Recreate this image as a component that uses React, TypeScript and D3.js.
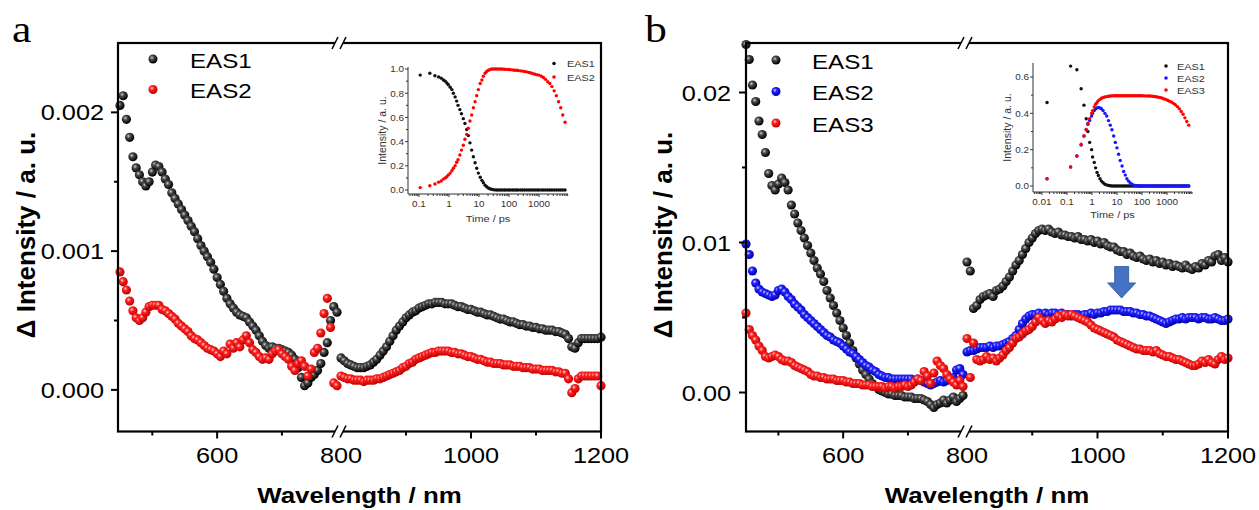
import React from "react";
import * as d3 from "d3";

const FONT = "Arial, 'Liberation Sans', Helvetica, sans-serif";
const SX = 1.15;

// ---------- wavelength grids (nm) ----------
const WL_LEFT = [
  450, 455, 460, 465, 470, 475, 480, 485, 490, 495,
  500, 505, 510, 515, 520, 525, 530, 535, 540, 545,
  550, 555, 560, 565, 570, 575, 580, 585, 590, 595,
  600, 605, 610, 615, 620, 625, 630, 635, 640, 645,
  650, 655, 660, 665, 670, 675, 680, 685, 690, 695,
  700, 705, 710, 715, 720, 725, 730, 735, 740, 745,
  750, 755, 760, 765, 770, 775, 780, 785,
];
const WL_RIGHT = [
  800, 805, 810, 815, 820, 825, 830, 835, 840, 845,
  850, 855, 860, 865, 870, 875, 880, 885, 890, 895,
  900, 905, 910, 915, 920, 925, 930, 935, 940, 945,
  950, 955, 960, 965, 970, 975, 980, 985, 990, 995,
  1000, 1005, 1010, 1015, 1020, 1025, 1030, 1035, 1040, 1045,
  1050, 1055, 1060, 1065, 1070, 1075, 1080, 1085, 1090, 1095,
  1100, 1105, 1110, 1115, 1120, 1125, 1130, 1135, 1140, 1145,
  1150, 1155, 1160, 1165, 1170, 1175, 1180, 1185, 1190, 1195,
  1200,
];

// ---------- panel a ----------
const A_EAS1_LEFT = [
  0.00205, 0.00212, 0.00195, 0.00182, 0.00168, 0.0016, 0.00155, 0.0015, 0.00147, 0.0015,
  0.00157, 0.00162, 0.00161, 0.00157, 0.00152, 0.00148, 0.00142, 0.00138, 0.00134, 0.0013,
  0.00126, 0.00122, 0.00118, 0.00114, 0.00109, 0.00104, 0.001, 0.00096, 0.00092, 0.00087,
  0.00081, 0.00076, 0.00071, 0.00066, 0.00062, 0.00059, 0.00056, 0.00054, 0.00053, 0.00052,
  0.00049, 0.00046, 0.00043, 0.00039, 0.00035, 0.00032, 0.0003, 0.00031, 0.0003, 0.0003,
  0.00029, 0.00028, 0.00027, 0.00025, 0.00022, 0.00016, 0.00009, 0.00003, 0.00005, 0.00009,
  0.00011, 0.00014, 0.00019, 0.00027, 0.00034, 0.0005, 0.0006, 0.00056,
];
const A_EAS1_RIGHT = [
  0.00023, 0.00021, 0.00019, 0.00018, 0.00017, 0.00016, 0.00016, 0.00016, 0.00017, 0.00018,
  0.0002, 0.00022, 0.00025, 0.00028, 0.00031, 0.00035, 0.00039, 0.00043, 0.00046, 0.00049,
  0.00052, 0.00054, 0.00056, 0.00057, 0.00059, 0.0006, 0.00061, 0.00062, 0.00062, 0.00063,
  0.00063, 0.00063, 0.00062, 0.00062, 0.00062, 0.00061, 0.0006, 0.0006, 0.00059, 0.00058,
  0.00058, 0.00057, 0.00056, 0.00056, 0.00055, 0.00054, 0.00054, 0.00053, 0.00052, 0.00051,
  0.00051, 0.0005, 0.00049, 0.00049, 0.00048, 0.00047, 0.00047, 0.00046, 0.00046, 0.00045,
  0.00045, 0.00044, 0.00044, 0.00043, 0.00043, 0.00043, 0.00042, 0.00042, 0.00041, 0.0004,
  0.00037, 0.00031, 0.0003, 0.00034, 0.00037, 0.00037, 0.00037, 0.00037, 0.00037, 0.00037,
  0.00038,
];
const A_EAS2_LEFT = [
  0.00085, 0.00078, 0.00072, 0.00064, 0.00057, 0.00052, 0.0005, 0.00052, 0.00056, 0.0006,
  0.00061, 0.00061, 0.00061, 0.00058, 0.00057, 0.00055, 0.00053, 0.00051, 0.00048, 0.00046,
  0.00044, 0.00042, 0.00039, 0.00037, 0.00036, 0.00034, 0.00032, 0.0003, 0.00029, 0.00028,
  0.00026, 0.00024, 0.00028, 0.00026, 0.00033, 0.0003, 0.00034, 0.00031, 0.00036, 0.00039,
  0.00034, 0.00029, 0.00027, 0.00024, 0.00022, 0.00023, 0.00022, 0.00026, 0.00028, 0.00029,
  0.00026, 0.00024, 0.00022, 0.00017, 0.00014, 0.00019, 0.00021, 0.00017, 0.0001, 0.00015,
  0.00027, 0.0003, 0.00041, 0.00055, 0.00066, 0.00045, 0.00005, 0.00003,
];
const A_EAS2_RIGHT = [
  0.0001, 0.00009, 0.00008, 0.00008, 0.00007, 0.00007, 0.00007, 0.00006, 0.00007, 0.00007,
  0.00007, 0.00008, 0.00008, 0.00009, 0.0001, 0.00011, 0.00012, 0.00013, 0.00014, 0.00016,
  0.00017, 0.00019, 0.0002, 0.00022, 0.00023, 0.00024, 0.00025, 0.00026, 0.00027, 0.00027,
  0.00028, 0.00028, 0.00028, 0.00028, 0.00027, 0.00027, 0.00026, 0.00026, 0.00025, 0.00024,
  0.00024, 0.00023, 0.00022, 0.00022, 0.00021, 0.0002, 0.0002, 0.00019, 0.00019, 0.00019,
  0.00018, 0.00018, 0.00018, 0.00017, 0.00017, 0.00017, 0.00016, 0.00016, 0.00016, 0.00015,
  0.00015, 0.00015, 0.00014, 0.00014, 0.00014, 0.00014, 0.00013, 0.00013, 0.00012, 0.00012,
  0.00008, -0.00002, 0.00001, 0.00008, 0.0001, 0.0001, 0.0001, 0.0001, 0.0001, 0.0001,
  0.00003,
];

// ---------- panel b ----------
const B_EAS1_LEFT = [
  0.0232, 0.0222, 0.0205, 0.0194, 0.0181, 0.0172, 0.016, 0.0146, 0.0138, 0.0135,
  0.0139, 0.0143, 0.014, 0.0135, 0.0125, 0.0119, 0.0113, 0.0108, 0.0103, 0.0098,
  0.0093, 0.0088, 0.0083, 0.0079, 0.0074, 0.0068, 0.0063, 0.0058, 0.0053, 0.0048,
  0.0043, 0.0038, 0.0033, 0.0028, 0.0023, 0.0019, 0.0015, 0.0012, 0.0009, 0.0006,
  0.0004, 0.0002, 0.0001, 0.0, -0.0001, -0.0001, -0.0002, -0.0002, -0.0002, -0.0003,
  -0.0003, -0.0003, -0.0004, -0.0004, -0.0004, -0.0005, -0.0006, -0.0008, -0.001, -0.0008,
  -0.0007, -0.0005, -0.0007, -0.0005, -0.0003, -0.0006, -0.0004, -0.0002,
];
const B_EAS1_RIGHT = [
  0.0087, 0.0081, 0.0056, 0.0058, 0.0062, 0.0064, 0.0065, 0.0066, 0.0064, 0.0068,
  0.0069, 0.0071, 0.0074, 0.0077, 0.0081, 0.0085, 0.0088, 0.0092, 0.0096, 0.01,
  0.0103, 0.0106, 0.0108, 0.0109, 0.0108, 0.0109, 0.0107, 0.0106, 0.0107, 0.0105,
  0.0105, 0.0104, 0.0104, 0.0103, 0.0104, 0.0102, 0.0102, 0.0101, 0.0102, 0.01,
  0.0101, 0.0099, 0.01, 0.0098, 0.0097, 0.0097, 0.0095, 0.0094, 0.0094, 0.0092,
  0.0093, 0.0091, 0.009, 0.0091, 0.0089, 0.0088, 0.0089, 0.0087, 0.0088, 0.0086,
  0.0087, 0.0085, 0.0086, 0.0084, 0.0085, 0.0084, 0.0083, 0.0085, 0.0083, 0.0082,
  0.0084, 0.0083, 0.0086, 0.0085, 0.0088, 0.0087, 0.0091, 0.0092, 0.0088, 0.009,
  0.0087,
];
const B_EAS2_LEFT = [
  0.0099, 0.0092, 0.0081, 0.0073, 0.0069, 0.0067, 0.0066, 0.0065, 0.0064, 0.0065,
  0.0068, 0.0069, 0.0067, 0.0064, 0.0062, 0.0059, 0.0057, 0.0055, 0.0052, 0.005,
  0.0048, 0.0046, 0.0044, 0.0042, 0.004, 0.0038, 0.0037, 0.0035, 0.0034, 0.0033,
  0.0031, 0.0029, 0.0027, 0.0026, 0.0024, 0.0022, 0.002, 0.0018, 0.0017, 0.0015,
  0.0014, 0.0012, 0.0011, 0.001, 0.001, 0.0009, 0.0009, 0.0009, 0.0009, 0.0009,
  0.0009, 0.0009, 0.0008, 0.0009, 0.0008, 0.0007, 0.0006, 0.0005, 0.0006, 0.0007,
  0.0008, 0.0007, 0.0008, 0.0009, 0.001, 0.0015, 0.0016, 0.0012,
];
const B_EAS2_RIGHT = [
  0.0027, 0.0028, 0.0028, 0.0029, 0.003, 0.003, 0.003, 0.0031, 0.003, 0.0031,
  0.0031, 0.0032, 0.0033, 0.0034, 0.0036, 0.0038, 0.0042, 0.0046, 0.0049, 0.0051,
  0.0052, 0.0052, 0.0053, 0.0052, 0.0053, 0.0052, 0.0053, 0.0053, 0.0052, 0.0053,
  0.0052, 0.0052, 0.0051, 0.0052, 0.0052, 0.0051, 0.0052, 0.0052, 0.0053, 0.0052,
  0.0053, 0.0053, 0.0054, 0.0054, 0.0055, 0.0055, 0.0055, 0.0055, 0.0054, 0.0054,
  0.0054, 0.0053, 0.0053, 0.0052, 0.0052, 0.0051, 0.0051, 0.005, 0.0049, 0.0048,
  0.0047, 0.0046, 0.0047, 0.0048, 0.0049, 0.0049, 0.005, 0.0049, 0.005, 0.005,
  0.005, 0.0049, 0.005, 0.005, 0.0049, 0.0049, 0.005, 0.0049, 0.0048, 0.0048,
  0.0049,
];
const B_EAS3_LEFT = [
  0.0053, 0.0042, 0.0038, 0.0035, 0.0031, 0.0028, 0.0024, 0.0023, 0.0024, 0.0025,
  0.0024, 0.0022, 0.0021, 0.0021, 0.002, 0.0018, 0.0017, 0.0016, 0.0015, 0.0014,
  0.0012, 0.0011, 0.0011, 0.001, 0.001, 0.0009, 0.0009, 0.0009, 0.0008, 0.0008,
  0.0008, 0.0007, 0.0007, 0.0006, 0.0006, 0.0006, 0.0005, 0.0005, 0.0005, 0.0004,
  0.0004, 0.0004, 0.0004, 0.0003, 0.0004, 0.0004, 0.0003, 0.0004, 0.0004, 0.0005,
  0.0004, 0.0005, 0.0007, 0.0009, 0.0008, 0.0014, 0.0011, 0.0006, 0.0013, 0.0021,
  0.0018, 0.0016, 0.0012, 0.0009, 0.0007, 0.0005, 0.0008, 0.0004,
];
const B_EAS3_RIGHT = [
  0.0036, 0.001, 0.0033, 0.0022, 0.0021, 0.0022, 0.0024, 0.0022, 0.0023, 0.0021,
  0.0023, 0.0025, 0.0028, 0.003, 0.0033, 0.0036, 0.0037, 0.0039, 0.0041, 0.0042,
  0.0044, 0.0047, 0.005, 0.0048, 0.0046, 0.0048, 0.0047, 0.0049, 0.0051, 0.005,
  0.0052, 0.0051, 0.0052, 0.0051, 0.005, 0.0049, 0.0048, 0.0047, 0.0045, 0.0043,
  0.0042, 0.0041, 0.004, 0.0039, 0.0038, 0.0037, 0.0035, 0.0034, 0.0033, 0.0032,
  0.0031, 0.003, 0.0029, 0.0029, 0.0028, 0.0028, 0.0028, 0.0027, 0.0028, 0.0026,
  0.0025, 0.0024, 0.0024, 0.0023, 0.0022, 0.0022, 0.0021, 0.002, 0.0019, 0.0018,
  0.0018, 0.0019, 0.0021, 0.002, 0.0022, 0.002, 0.0019, 0.0022, 0.0024, 0.0022,
  0.0023,
];

// ---------- inset a (kinetics) ----------
const TA = [
  0.11, 0.23, 0.34, 0.45, 0.55, 0.65, 0.75, 0.85, 0.95, 1.1,
  1.25, 1.4, 1.6, 1.8, 2.0, 2.3, 2.6, 3.0, 3.4, 3.9,
  4.4, 5.0, 5.7, 6.5, 7.4, 8.4, 9.5, 11, 12.5, 14,
  16, 18, 20.5, 23, 26, 30, 34, 39, 45, 52,
  60, 70, 80, 95, 110, 130, 150, 175, 200, 240,
  280, 330, 390, 460, 540, 630, 740, 870, 1000, 1200,
  1400, 1650, 1950, 2300, 2700, 3200, 3800, 4500, 5300, 6200,
  7400,
];
const TA_EAS1 = [
  0.95, 0.965, 0.945, 0.935, 0.925, 0.91, 0.9, 0.885, 0.87, 0.85,
  0.83, 0.8, 0.77, 0.735, 0.7, 0.665, 0.63, 0.59, 0.55, 0.5,
  0.45, 0.39, 0.33, 0.275, 0.225, 0.18, 0.14, 0.105, 0.08, 0.06,
  0.04, 0.027, 0.016, 0.01, 0.006, 0.003, 0.001, 0, 0, 0,
  0, 0, 0, 0, 0, 0, 0, 0, 0, 0,
  0, 0, 0, 0, 0, 0, 0, 0, 0, 0,
  0, 0, 0, 0, 0, 0, 0, 0, 0, 0,
  0,
];
const TA_EAS2 = [
  0.02, 0.035, 0.05, 0.065, 0.075, 0.09, 0.1, 0.11, 0.125, 0.14,
  0.16, 0.18, 0.2, 0.23, 0.25, 0.29, 0.33, 0.37, 0.42, 0.46,
  0.51, 0.57, 0.62, 0.68, 0.73, 0.78, 0.83, 0.88, 0.91, 0.94,
  0.965, 0.98, 0.99, 0.995, 1.0, 1.0, 1.0, 1.0, 1.0, 1.0,
  1.0, 0.998, 0.997, 0.996, 0.995, 0.993, 0.99, 0.99, 0.988, 0.985,
  0.983, 0.98, 0.977, 0.972, 0.967, 0.962, 0.957, 0.952, 0.95, 0.94,
  0.93, 0.915, 0.895, 0.88, 0.855, 0.82, 0.78, 0.73, 0.68, 0.62,
  0.56,
];

// ---------- inset b (kinetics) ----------
const TB = [
  0.016, 0.14, 0.25, 0.37, 0.48, 0.59, 0.69, 0.81, 0.97, 1.06,
  1.24, 1.4, 1.6, 1.8, 2.1, 2.4, 2.8, 3.3, 3.9, 4.6,
  5.4, 6.3, 7.4, 8.6, 10, 11.6, 13.5, 16, 18.5, 21.5,
  25, 29, 34, 40, 47, 55, 65, 76, 90, 105,
  125, 150, 180, 215, 260, 310, 370, 440, 520, 620,
  740, 880, 1050, 1250, 1500, 1800, 2150, 2600, 3100, 3700,
  4400, 5200, 6200, 7400,
];
const TB_EAS1 = [
  0.46, 0.66, 0.64, 0.535, 0.445, 0.37, 0.3, 0.24, 0.2, 0.16,
  0.13, 0.1, 0.075, 0.058, 0.04, 0.027, 0.018, 0.01, 0.006, 0.003,
  0.001, 0, 0, 0, 0, 0, 0, 0, 0, 0,
  0, 0, 0, 0, 0, 0, 0, 0, 0, 0,
  0, 0, 0, 0, 0, 0, 0, 0, 0, 0,
  0, 0, 0, 0, 0, 0, 0, 0, 0, 0,
  0, 0, 0, 0,
];
const TB_EAS2 = [
  0.04, 0.105, 0.165, 0.225, 0.275, 0.31, 0.34, 0.36, 0.385, 0.4,
  0.415, 0.425, 0.43, 0.432, 0.43, 0.425, 0.415, 0.4, 0.385, 0.36,
  0.335, 0.31, 0.275, 0.24, 0.21, 0.175, 0.14, 0.11, 0.08, 0.06,
  0.04, 0.027, 0.017, 0.01, 0.005, 0.003, 0.001, 0, 0, 0,
  0, 0, 0, 0, 0, 0, 0, 0, 0, 0,
  0, 0, 0, 0, 0, 0, 0, 0, 0, 0,
  0, 0, 0, 0,
];
const TB_EAS3 = [
  0.04, 0.105, 0.165, 0.23, 0.275, 0.31, 0.345, 0.37, 0.4, 0.415,
  0.435, 0.45, 0.46, 0.47, 0.477, 0.483, 0.487, 0.49, 0.492, 0.494,
  0.495, 0.496, 0.497, 0.497, 0.497, 0.497, 0.497, 0.497, 0.497, 0.497,
  0.497, 0.497, 0.497, 0.497, 0.497, 0.497, 0.497, 0.497, 0.497, 0.497,
  0.496, 0.496, 0.495, 0.495, 0.494, 0.493, 0.491, 0.489, 0.487, 0.484,
  0.48, 0.477, 0.472, 0.467, 0.462, 0.455, 0.447, 0.437, 0.425, 0.41,
  0.395, 0.375, 0.355, 0.335,
];

// ---------- ticks ----------
const X_LABELS = [600, 800, 1000, 1200];
const X_MINOR = [500, 700, 900, 1100];
const A_Y_TICKS = [0, 0.001, 0.002];
const A_Y_MINOR = [0.0005, 0.0015];
const B_Y_TICKS = [0, 0.01, 0.02];
const B_Y_MINOR = [0.005, 0.015];
const INSET_A_X_TICKS = [0.1, 1, 10, 100, 1000];
const INSET_B_X_TICKS = [0.01, 0.1, 1, 10, 100, 1000];
const INSET_A_Y_TICKS = [0, 0.2, 0.4, 0.6, 0.8, 1.0];
const INSET_B_Y_TICKS = [0, 0.2, 0.4, 0.6];

const ARROW = { wl: 1037, top: 0.0084, bottom: 0.0063 };

const TOP = 43;
const BOTTOM = 431.5;
const R_MAIN = 4.6;

function T({ x, y, size, anchor = "start", weight = "normal", family = FONT, fill = "#000", sx = SX, children }: any) {
  return (
    <text
      transform={`translate(${x},${y}) scale(${sx},1)`}
      fontSize={size}
      fontFamily={family}
      fontWeight={weight}
      textAnchor={anchor}
      fill={fill}
    >
      {children}
    </text>
  );
}

function BreakMark({ x, y }: { x: number; y: number }) {
  return (
    <g>
      <rect x={x - 4} y={y - 3} width={8} height={6} fill="#fff" />
      <line x1={x - 7} y1={y + 6} x2={x - 1} y2={y - 6} stroke="#000" strokeWidth={1.6} />
      <line x1={x + 1} y1={y + 6} x2={x + 7} y2={y - 6} stroke="#000" strokeWidth={1.6} />
    </g>
  );
}

function MainPanel(p: any) {
  const xL = d3.scaleLinear().domain(p.domL).range(p.rangeL);
  const xR = d3.scaleLinear().domain(p.domR).range(p.rangeR);
  const xs = (w: number) => (w <= p.domL[1] ? xL(w) : xR(w));
  const y = d3.scaleLinear().domain(p.yDomain).range([BOTTOM, TOP]);
  const X0 = p.rangeL[0];
  const X1 = p.rangeR[1];
  const fmt = d3.format(p.yFmt);
  return (
    <g>
      {p.series.map((s: any) => (
        <g key={s.name}>
          {s.left.map((v: number, i: number) => (
            <circle key={"l" + i} cx={xL(WL_LEFT[i])} cy={y(v)} r={R_MAIN} fill={`url(#${s.grad})`} />
          ))}
          {s.right.map((v: number, i: number) => (
            <circle key={"r" + i} cx={xR(WL_RIGHT[i])} cy={y(v)} r={R_MAIN} fill={`url(#${s.grad})`} />
          ))}
        </g>
      ))}
      <rect x={X0} y={TOP} width={X1 - X0} height={BOTTOM - TOP} fill="none" stroke="#000" strokeWidth={2.2} />
      {p.yTicks.map((t: number) => (
        <g key={"yt" + t}>
          <line x1={X0 - 7} x2={X0} y1={y(t)} y2={y(t)} stroke="#000" strokeWidth={2} />
          <T x={p.yLabelX} y={y(t) + 8} size={22} anchor="end">{fmt(t)}</T>
        </g>
      ))}
      {p.yMinor.map((t: number) => (
        <line key={"ym" + t} x1={X0 - 4} x2={X0} y1={y(t)} y2={y(t)} stroke="#000" strokeWidth={2} />
      ))}
      {X_LABELS.map((t) => (
        <g key={"xt" + t}>
          {t !== p.domR[0] && (
            <line x1={xs(t)} x2={xs(t)} y1={BOTTOM} y2={BOTTOM + 7} stroke="#000" strokeWidth={2} />
          )}
          <T x={xs(t)} y={463} size={22} anchor="middle">{t}</T>
        </g>
      ))}
      {X_MINOR.map((t) => (
        <line key={"xm" + t} x1={xs(t)} x2={xs(t)} y1={BOTTOM} y2={BOTTOM + 4} stroke="#000" strokeWidth={2} />
      ))}
      <BreakMark x={p.breakX} y={TOP} />
      <BreakMark x={p.breakX} y={BOTTOM} />
      {p.series.map((s: any, i: number) => (
        <g key={"lg" + s.name}>
          <circle cx={p.legend.x} cy={p.legend.y + i * p.legend.dy} r={4.5} fill={`url(#${s.grad})`} />
          <T x={p.legend.tx} y={p.legend.y + i * p.legend.dy + 8.5} size={21}>{s.name}</T>
        </g>
      ))}
      <text
        transform={`translate(${p.yTitleX},${235}) rotate(-90)`}
        fontSize={26}
        fontFamily={FONT}
        fontWeight="bold"
        textAnchor="middle"
      >
        Δ Intensity / a. u.
      </text>
      <T x={(X0 + X1) / 2} y={503} size={22.5} anchor="middle" weight="bold">Wavelength / nm</T>
      <T x={p.letterX} y={42} size={38} family="'Liberation Serif', 'Times New Roman', serif">{p.letter}</T>
      {p.children}
    </g>
  );
}

function Inset(p: any) {
  const x = d3.scaleLog().domain(p.xDomain).range([p.x0, p.x1]);
  const y = d3.scaleLinear().domain(p.yDomain).range([p.y1, p.y0]);
  const minorX = x.ticks().filter((t: number) => !p.xTicks.some((m: number) => Math.abs(m - t) / m < 1e-6));
  const yMinor = p.yTicks.slice(0, -1).map((t: number, i: number) => (t + p.yTicks[i + 1]) / 2);
  const col = "#333";
  return (
    <g>
      {p.series.map((s: any) => (
        <g key={s.name}>
          {s.values.map((v: number, i: number) => (
            <circle key={i} cx={x(p.times[i])} cy={y(v)} r={1.7} fill={s.color} />
          ))}
        </g>
      ))}
      <line x1={p.x0} x2={p.x0} y1={p.y0} y2={p.y1} stroke={col} strokeWidth={1} />
      <line x1={p.x0} x2={p.x1} y1={p.y1} y2={p.y1} stroke={col} strokeWidth={1} />
      {p.yTicks.map((t: number) => (
        <g key={"y" + t}>
          <line x1={p.x0 - 3} x2={p.x0} y1={y(t)} y2={y(t)} stroke={col} strokeWidth={1} />
          <T x={p.x0 - 4} y={y(t) + 3.3} size={9} anchor="end" fill={col} sx={1.1}>{d3.format(".1f")(t)}</T>
        </g>
      ))}
      {yMinor.map((t: number) => (
        <line key={"ym" + t} x1={p.x0 - 2} x2={p.x0} y1={y(t)} y2={y(t)} stroke={col} strokeWidth={1} />
      ))}
      {p.xTicks.map((t: number) => (
        <g key={"x" + t}>
          <line x1={x(t)} x2={x(t)} y1={p.y1} y2={p.y1 + 3} stroke={col} strokeWidth={1} />
          <T x={x(t)} y={p.y1 + 12.5} size={9} anchor="middle" fill={col} sx={1.1}>{String(t)}</T>
        </g>
      ))}
      {minorX.map((t: number, i: number) => (
        <line key={"xm" + i} x1={x(t)} x2={x(t)} y1={p.y1} y2={p.y1 + 2} stroke={col} strokeWidth={1} />
      ))}
      <text
        transform={`translate(${p.yTitleX},${(p.y0 + p.y1) / 2}) rotate(-90)`}
        fontSize={10.5}
        fontFamily={FONT}
        textAnchor="middle"
        fill={col}
      >
        Intensity / a. u.
      </text>
      <T x={(p.x0 + p.x1) / 2} y={p.xTitleY} size={9.5} anchor="middle" fill={col}>Time / ps</T>
      {p.series.map((s: any, i: number) => (
        <g key={"lg" + s.name}>
          <circle cx={p.legend.x} cy={p.legend.y + i * p.legend.dy} r={1.8} fill={s.color} />
          <T x={p.legend.tx} y={p.legend.y + i * p.legend.dy + 3.5} size={9.5} fill={col}>{s.name}</T>
        </g>
      ))}
    </g>
  );
}

export default function App() {
  const panelA = {
    domL: [447, 785],
    rangeL: [118, 337],
    domR: [800, 1200],
    rangeR: [341, 601],
    breakX: 339,
    yDomain: [-0.0003, 0.0025],
    yTicks: A_Y_TICKS,
    yMinor: A_Y_MINOR,
    yFmt: ".3f",
    yLabelX: 104,
    yTitleX: 35,
    letter: "a",
    letterX: 12,
    legend: { x: 153, y: 59, dy: 30.5, tx: 190 },
    series: [
      { name: "EAS1", grad: "gBlack", left: A_EAS1_LEFT, right: A_EAS1_RIGHT },
      { name: "EAS2", grad: "gRed", left: A_EAS2_LEFT, right: A_EAS2_RIGHT },
    ],
  };
  const panelB = {
    domL: [450, 785],
    rangeL: [746, 963],
    domR: [800, 1200],
    rangeR: [967, 1228],
    breakX: 965,
    yDomain: [-0.0026, 0.0233],
    yTicks: B_Y_TICKS,
    yMinor: B_Y_MINOR,
    yFmt: ".2f",
    yLabelX: 731,
    yTitleX: 672,
    letter: "b",
    letterX: 645,
    legend: { x: 776, y: 60, dy: 31.5, tx: 812 },
    series: [
      { name: "EAS1", grad: "gBlack", left: B_EAS1_LEFT, right: B_EAS1_RIGHT },
      { name: "EAS2", grad: "gBlue", left: B_EAS2_LEFT, right: B_EAS2_RIGHT },
      { name: "EAS3", grad: "gRed", left: B_EAS3_LEFT, right: B_EAS3_RIGHT },
    ],
  };

  const bxR = d3.scaleLinear().domain(panelB.domR).range(panelB.rangeR);
  const byS = d3.scaleLinear().domain(panelB.yDomain).range([BOTTOM, TOP]);
  const ax = bxR(ARROW.wl);
  const aTop = byS(ARROW.top);
  const aBot = byS(ARROW.bottom);
  const headY = aTop + (aBot - aTop) * 0.52;
  const arrowPath = `M${ax - 7},${aTop} L${ax + 7},${aTop} L${ax + 7},${headY} L${ax + 14},${headY} L${ax},${aBot} L${ax - 14},${headY} L${ax - 7},${headY} Z`;

  return (
    <svg
      width={1259}
      height={510}
      style={{ position: "absolute", left: 0, top: 0, background: "#fff" }}
      xmlns="http://www.w3.org/2000/svg"
    >
      <defs>
        <radialGradient id="gBlack" cx="0.38" cy="0.36" r="0.62">
          <stop offset="0" stopColor="#cfcfcf" />
          <stop offset="0.35" stopColor="#4a4a4a" />
          <stop offset="1" stopColor="#000" />
        </radialGradient>
        <radialGradient id="gRed" cx="0.38" cy="0.36" r="0.62">
          <stop offset="0" stopColor="#ffd6d6" />
          <stop offset="0.35" stopColor="#ff2222" />
          <stop offset="1" stopColor="#c00000" />
        </radialGradient>
        <radialGradient id="gBlue" cx="0.38" cy="0.36" r="0.62">
          <stop offset="0" stopColor="#d6d6ff" />
          <stop offset="0.35" stopColor="#2222ff" />
          <stop offset="1" stopColor="#0000b0" />
        </radialGradient>
      </defs>
      <rect x={0} y={0} width={1259} height={510} fill="#fff" />
      <MainPanel {...panelA}>
        <Inset
          x0={408}
          x1={568}
          y0={67}
          y1={194}
          xDomain={[0.043, 9260]}
          yDomain={[-0.033, 1.017]}
          xTicks={INSET_A_X_TICKS}
          yTicks={INSET_A_Y_TICKS}
          times={TA}
          yTitleX={386}
          xTitleY={222}
          legend={{ x: 554, y: 63.5, dy: 13.5, tx: 567 }}
          series={[
            { name: "EAS1", color: "#111", values: TA_EAS1 },
            { name: "EAS2", color: "#f00", values: TA_EAS2 },
          ]}
        />
      </MainPanel>
      <MainPanel {...panelB}>
        <Inset
          x0={1033}
          x1={1192}
          y0={63}
          y1={192}
          xDomain={[0.0044, 10000]}
          yDomain={[-0.033, 0.677]}
          xTicks={INSET_B_X_TICKS}
          yTicks={INSET_B_Y_TICKS}
          times={TB}
          yTitleX={1011}
          xTitleY={218}
          legend={{ x: 1166, y: 66, dy: 12, tx: 1177 }}
          series={[
            { name: "EAS1", color: "#111", values: TB_EAS1 },
            { name: "EAS2", color: "#1515ff", values: TB_EAS2 },
            { name: "EAS3", color: "#f00", values: TB_EAS3 },
          ]}
        />
        <path d={arrowPath} fill="#4472C4" stroke="#2f5597" strokeWidth={0.8} />
      </MainPanel>
    </svg>
  );
}
